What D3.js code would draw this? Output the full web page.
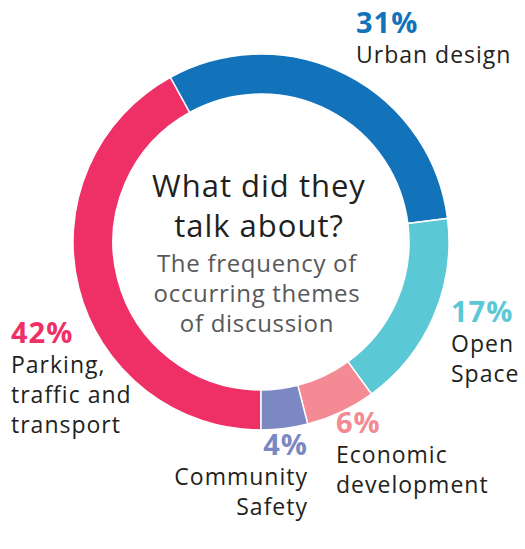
<!DOCTYPE html>
<html><head><meta charset="utf-8">
<script src="https://cdn.jsdelivr.net/npm/d3@7"></script>
<style>
html,body{margin:0;padding:0;background:#fff;}
svg{display:block;}
text{font-family:"Open Sans","Noto Sans",sans-serif;}
</style></head>
<body>
<svg id="c" width="525" height="549"></svg>
<script>
// Data
const categories = ["Parking, traffic and transport", "Urban design", "Open Space", "Economic development", "Community Safety"];
const values = [42, 31, 17, 6, 4];
const labelLines = [["Parking,", "traffic and", "transport"], ["Urban design"], ["Open", "Space"], ["Economic", "development"], ["Community", "Safety"]];
const titleLines = ["What did they", "talk about?"];
const subtitleLines = ["The frequency of", "occurring themes", "of discussion"];

// Styles
const colors = ["#EE3066", "#1273BA", "#5BC8D6", "#F48A94", "#7B88C2"];
const labelPos = [
  {x: 11, y: 343, anchor: "start"},
  {x: 356, y: 33, anchor: "start"},
  {x: 451, y: 322, anchor: "start"},
  {x: 336, y: 433, anchor: "start"},
  {x: 308, y: 455, anchor: "end"}
];

const svg = d3.select("#c");
const cx = 261, cy = 242, rOuter = 188, rInner = 148;
const g = svg.append("g").attr("transform", `translate(${cx},${cy})`);

const pie = d3.pie().sort(null).value(d => d.v).startAngle(Math.PI).endAngle(3 * Math.PI);
const arc = d3.arc().innerRadius(rInner).outerRadius(rOuter);
const data = categories.map((c, i) => ({c, v: values[i], i}));

g.selectAll("path").data(pie(data)).join("path")
  .attr("d", arc)
  .attr("fill", d => colors[d.data.i])
  .attr("stroke", "#fff").attr("stroke-width", 1.5);

// Center text
const ct = svg.append("g");
titleLines.forEach((t, i) => {
  ct.append("text").attr("x", 259).attr("y", 197 + i * 40)
    .attr("text-anchor", "middle").attr("font-size", 31).attr("letter-spacing", 1)
    .attr("fill", "#231F20").text(t);
});
subtitleLines.forEach((t, i) => {
  ct.append("text").attr("x", 257).attr("y", 272 + i * 30)
    .attr("text-anchor", "middle").attr("font-size", 24).attr("letter-spacing", 0.7)
    .attr("fill", "#58585A").text(t);
});

// Labels
data.forEach((d, i) => {
  const p = labelPos[i];
  const lg = svg.append("g");
  lg.append("text").attr("x", p.x).attr("y", p.y).attr("text-anchor", p.anchor)
    .attr("font-size", 29).attr("font-weight", 700).attr("letter-spacing", 1)
    .attr("fill", colors[i])
    .text(d.v + "%");
  labelLines[i].forEach((t, j) => {
    lg.append("text").attr("x", p.x).attr("y", p.y + 30 + j * 30).attr("text-anchor", p.anchor)
      .attr("font-size", 23).attr("letter-spacing", 1)
      .attr("fill", "#231F20").text(t);
  });
});
</script>
</body></html>
